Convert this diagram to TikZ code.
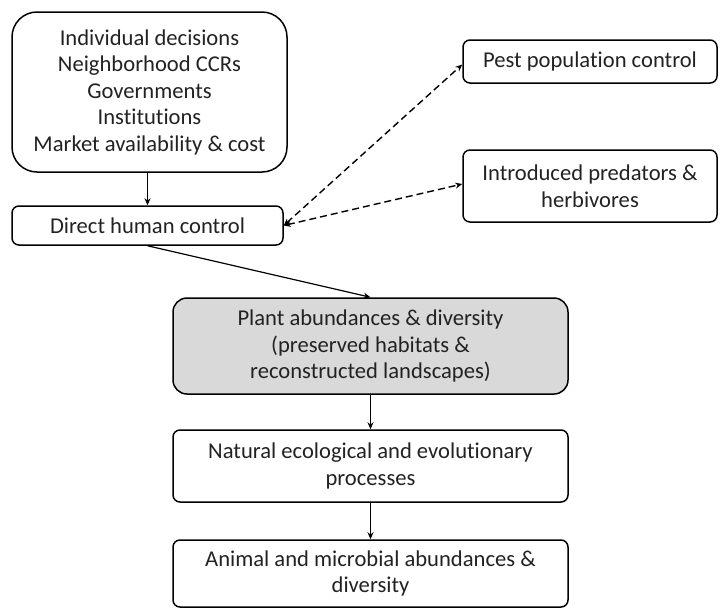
\documentclass[tikz,border=0pt]{standalone}
\usepackage{fontspec}
\setmainfont{Carlito}[Ligatures=NoCommon]
\usetikzlibrary{arrows.meta}
\definecolor{txt}{HTML}{222222}
\definecolor{plantfill}{HTML}{D9D9D9}
\tikzset{
  box/.style={draw=black, line width=1.5pt, rounded corners=7pt, align=center,
    inner sep=0pt, font=\fontsize{22.6}{26.5}\selectfont, text=txt},
  conn/.style={line width=1.2pt, -{Stealth[length=7pt,width=6pt]}},
  dconn/.style={line width=1.4pt, dash pattern=on 7pt off 4pt,
    {Stealth[length=7pt,width=6pt]}-{Stealth[length=7pt,width=6pt]}}
}
\begin{document}
\begin{tikzpicture}[x=1pt,y=-1pt]
\useasboundingbox (0,0) rectangle (721,611);
\node[box, rounded corners=25pt, minimum width=275pt, minimum height=160pt] (top) at (149.5,92)
  {Individual decisions\\Neighborhood CCRs\\Governments\\Institutions\\Market availability \& cost};
\node[box, minimum width=271pt, minimum height=39pt] (dhc) at (147.5,225.5) {Direct human control};
\node[box, minimum width=254pt, minimum height=43pt] (pest) at (590,61.5) {Pest population control};
\node[box, minimum width=254pt, minimum height=72pt] (intro) at (590,186) {Introduced predators \&\\herbivores};
\node[box, fill=plantfill, rounded corners=14pt, minimum width=395pt, minimum height=96pt] (plant) at (370.5,346)
  {Plant abundances \& diversity\\(preserved habitats \&\\reconstructed landscapes)};
\node[box, minimum width=395pt, minimum height=72pt] (nat) at (370.5,466) {Natural ecological and evolutionary\\processes};
\node[box, minimum width=395pt, minimum height=67pt] (anim) at (370.5,573.5) {Animal and microbial abundances \&\\diversity};
\draw[conn] (top.south -| dhc.north) -- (dhc.north);
\draw[conn] (dhc.south) -- (plant.north);
\draw[conn] (plant.south) -- (nat.north);
\draw[conn] (nat.south) -- (anim.north);
\draw[dconn] (dhc.east) -- ([yshift=-3pt]pest.west);
\draw[dconn] (dhc.east) -- ([yshift=2pt]intro.west);
\end{tikzpicture}
\end{document}
